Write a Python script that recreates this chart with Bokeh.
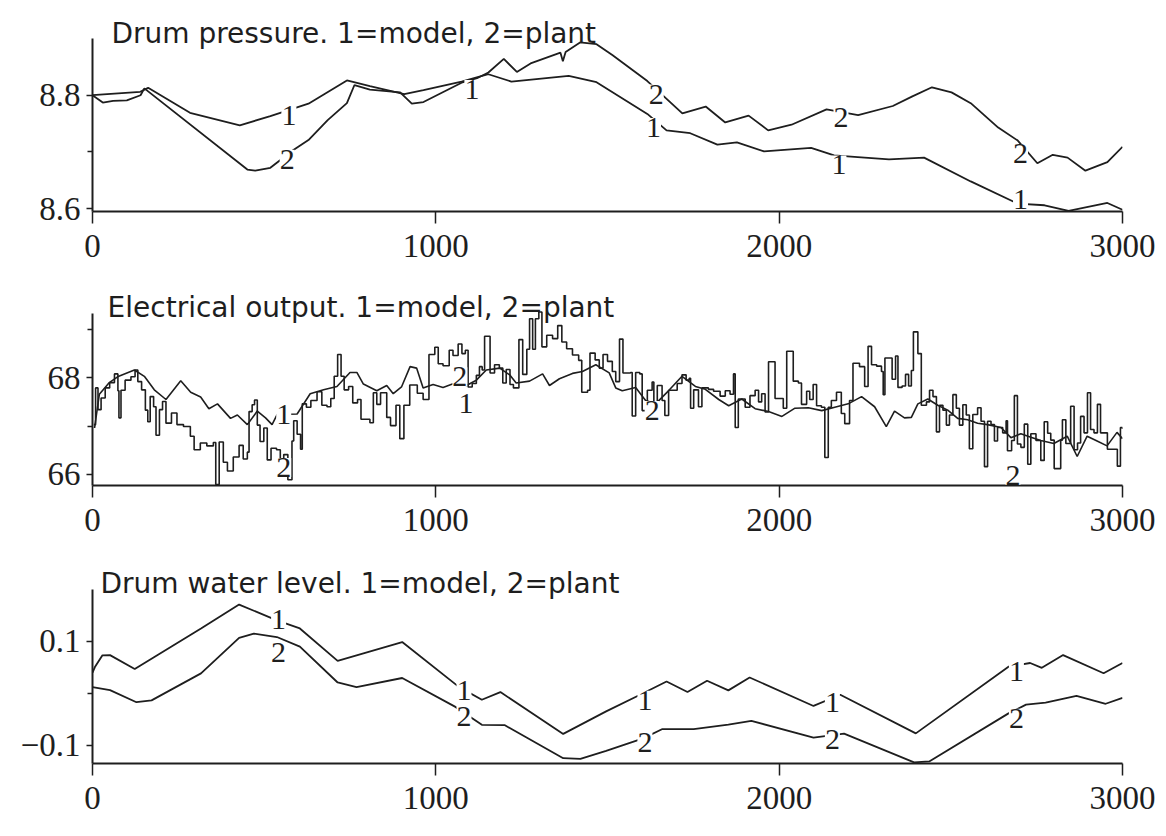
from bokeh.plotting import figure
from bokeh.layouts import column
from bokeh.models import FixedTicker, Range1d, ColumnDataSource, LabelSet, Label
from bokeh.core.properties import value
from bokeh.embed import file_html
from bokeh.resources import INLINE

# ---------------- Panel 1: Drum pressure ----------------
dp_title = "Drum pressure. 1=model, 2=plant"
dp_t_model = [0, 139, 162, 284, 429, 518, 629, 741, 808, 908, 964, 1075, 1153, 1220, 1387,
              1468, 1616, 1672, 1741, 1820, 1877, 1956, 2093, 2160, 2229, 2320, 2422, 2558,
              2694, 2773, 2843, 2956, 3000]
dp_model = [8.800, 8.806, 8.813, 8.769, 8.747, 8.763, 8.785, 8.826, 8.816, 8.802, 8.809, 8.824,
            8.837, 8.824, 8.834, 8.823, 8.767, 8.738, 8.733, 8.713, 8.717, 8.701, 8.707, 8.694,
            8.691, 8.687, 8.690, 8.648, 8.609, 8.606, 8.596, 8.610, 8.598]
dp_t_plant = [0, 30, 60, 100, 140, 151, 451, 474, 518, 584, 629, 685, 741, 763, 808, 896, 930,
              964, 1075, 1120, 1153, 1198, 1236, 1276, 1363, 1370, 1378, 1420, 1468, 1514, 1616,
              1718, 1786, 1843, 1911, 1968, 2036, 2138, 2230, 2331, 2388, 2445, 2502, 2558, 2638,
              2695, 2752, 2797, 2840, 2892, 2956, 3000]
dp_plant = [8.800, 8.787, 8.790, 8.791, 8.800, 8.812, 8.669, 8.667, 8.672, 8.703, 8.721, 8.756,
            8.786, 8.818, 8.810, 8.805, 8.785, 8.788, 8.822, 8.830, 8.840, 8.864, 8.841, 8.856,
            8.875, 8.860, 8.876, 8.893, 8.890, 8.871, 8.825, 8.768, 8.780, 8.752, 8.764, 8.738,
            8.748, 8.775, 8.765, 8.781, 8.798, 8.814, 8.805, 8.786, 8.743, 8.720, 8.680, 8.695,
            8.690, 8.667, 8.682, 8.709]
dp_lab_x = [572, 567, 1105, 1642, 1634, 2180, 2174, 2703, 2703]
dp_lab_y = [8.764, 8.687, 8.810, 8.802, 8.743, 8.761, 8.677, 8.697, 8.616]
dp_lab_t = ["1", "2", "1", "2", "1", "2", "1", "2", "1"]
dp_yticks = [8.6, 8.8]
dp_yminor = [8.7]

# ---------------- Panel 2: Electrical output ----------------
eo_title = "Electrical output. 1=model, 2=plant"
eo_t_model = [6, 20, 49, 73, 122, 151, 180, 214, 257, 286, 315, 339, 364, 402, 422, 451, 480,
              504, 523, 538, 596, 634, 673, 712, 750, 770, 789, 828, 857, 876, 900, 925, 944,
              963, 992, 1021, 1060, 1089, 1118, 1147, 1186, 1215, 1234, 1273, 1311, 1331, 1360,
              1398, 1427, 1466, 1505, 1524, 1543, 1582, 1611, 1640, 1679, 1717, 1756, 1785,
              1824, 1853, 1891, 1930, 1969, 2008, 2046, 2085, 2124, 2162, 2201, 2240, 2278,
              2312, 2336, 2365, 2385, 2404, 2433, 2462, 2491, 2520, 2549, 2578, 2607, 2646,
              2675, 2704, 2733, 2762, 2800, 2839, 2868, 2897, 2926, 2955, 2984, 3000]
eo_model = [66.96, 67.66, 67.90, 68.02, 68.16, 68.03, 67.75, 67.55, 67.94, 67.70, 67.60, 67.36,
            67.46, 67.16, 67.23, 67.03, 67.31, 67.17, 67.03, 67.24, 67.25, 67.67, 67.75, 67.82,
            68.11, 68.11, 67.87, 67.73, 67.84, 67.67, 67.81, 68.23, 68.20, 67.79, 67.86, 67.80,
            67.90, 67.84, 67.95, 68.16, 68.20, 68.06, 67.89, 67.93, 68.08, 67.84, 67.98, 68.09,
            68.13, 68.27, 68.10, 67.79, 67.73, 67.80, 67.53, 67.46, 67.74, 68.03, 67.82, 67.76,
            67.55, 67.42, 67.56, 67.36, 67.30, 67.20, 67.37, 67.38, 67.32, 67.39, 67.46, 67.61,
            67.40, 66.99, 67.31, 67.17, 67.18, 67.46, 67.56, 67.43, 67.33, 67.16, 67.13, 67.06,
            67.03, 66.97, 66.76, 66.84, 66.77, 66.70, 66.64, 66.79, 66.37, 66.79, 66.69, 66.59,
            66.87, 66.74]
eo_t_plant = [4, 9, 16, 25, 37, 50, 64, 74, 77, 83, 95, 112, 124, 132, 143, 154, 161, 168, 178,
              185, 195, 204, 214, 230, 246, 265, 285, 296, 314, 333, 352, 359, 369, 381, 393, 410,
              427, 439, 451, 456, 465, 472, 480, 488, 499, 509, 520, 536, 547, 557, 569, 581, 586,
              596, 606, 611, 623, 636, 654, 668, 683, 694, 704, 714, 724, 733, 746, 758, 772, 782,
              808, 818, 828, 839, 857, 868, 884, 895, 907, 924, 946, 963, 980, 997, 1007, 1021,
              1039, 1050, 1065, 1076, 1086, 1094, 1106, 1118, 1127, 1135, 1142, 1153, 1158, 1171,
              1185, 1195, 1205, 1216, 1226, 1242, 1253, 1265, 1273, 1282, 1290, 1300, 1309, 1323,
              1340, 1355, 1367, 1381, 1398, 1416, 1425, 1442, 1449, 1464, 1476, 1487, 1500, 1514,
              1524, 1535, 1545, 1567, 1572, 1582, 1594, 1601, 1616, 1630, 1635, 1645, 1659, 1667,
              1678, 1703, 1717, 1729, 1738, 1742, 1751, 1765, 1775, 1794, 1809, 1828, 1843, 1857,
              1867, 1872, 1881, 1901, 1915, 1930, 1940, 1949, 1959, 1969, 1983, 1988, 2002, 2012,
              2022, 2036, 2041, 2056, 2065, 2080, 2089, 2099, 2109, 2123, 2133, 2143, 2152, 2167,
              2181, 2191, 2205, 2215, 2234, 2249, 2259, 2269, 2284, 2298, 2303, 2308, 2319, 2329,
              2339, 2346, 2358, 2368, 2377, 2385, 2391, 2404, 2414, 2429, 2438, 2448, 2458, 2467,
              2477, 2487, 2496, 2506, 2516, 2525, 2535, 2545, 2554, 2564, 2578, 2588, 2598, 2607,
              2617, 2627, 2636, 2651, 2661, 2665, 2677, 2685, 2694, 2704, 2714, 2724, 2733, 2748,
              2762, 2772, 2782, 2791, 2801, 2820, 2825, 2835, 2849, 2859, 2869, 2878, 2888, 2898,
              2907, 2917, 2927, 2936, 2956, 2975, 2985, 2994, 3000]
eo_plant = [67.03, 67.79, 67.34, 67.58, 67.79, 67.90, 68.08, 67.73, 67.17, 67.74, 67.95, 68.02,
            68.16, 67.92, 67.75, 67.33, 67.09, 67.61, 67.40, 66.81, 67.34, 67.51, 67.06, 67.27,
            67.03, 66.99, 66.79, 66.51, 66.65, 66.59, 66.66, 65.79, 66.67, 66.25, 66.07, 66.36,
            66.60, 66.32, 66.46, 67.30, 67.44, 67.54, 67.02, 66.68, 66.96, 66.30, 66.54, 66.51,
            66.20, 66.41, 65.89, 66.69, 67.11, 66.83, 66.52, 67.46, 67.39, 67.53, 67.71, 67.43,
            67.40, 67.57, 68.03, 68.48, 68.03, 67.75, 67.82, 67.48, 67.55, 67.14,
            67.07, 67.69, 67.45, 67.69, 67.18, 67.01, 67.43, 66.74, 67.43, 67.85, 67.68, 67.55,
            68.48, 68.63, 68.29, 68.25, 68.57, 68.46, 68.70, 68.50, 68.57, 67.81, 67.88, 68.05,
            68.23, 68.16, 68.86, 68.86, 68.10, 68.27, 68.20, 67.89, 68.17, 67.86, 67.79, 68.79,
            68.07, 68.59, 69.22, 68.59, 69.22, 69.36, 68.64, 68.88, 68.81, 69.08, 68.74, 68.60,
            68.47, 68.36, 67.70, 67.74, 68.51, 68.37, 68.20, 68.48, 68.34, 68.13, 67.92, 68.80,
            68.10, 68.11, 67.21, 68.11, 68.08, 67.32, 67.74, 67.91, 67.15, 67.84, 67.53, 67.22,
            67.74, 67.88, 68.06, 67.95, 67.99, 67.37, 67.75, 67.40, 67.79, 67.76, 67.72, 67.62,
            67.73, 67.66, 68.08, 66.97, 67.56, 67.39, 67.63, 67.74, 67.50, 67.67, 67.29, 68.33,
            68.33, 67.57, 67.57, 67.37, 68.55, 68.55, 67.93, 67.89, 67.45, 67.72, 67.55, 67.86,
            67.42, 67.39, 66.35, 67.39, 67.53, 67.70, 67.26, 67.05, 67.53, 68.30, 68.23, 67.82,
            68.65, 68.27, 68.24, 68.13, 67.65, 68.41, 68.41, 67.97, 68.45, 67.80, 67.83, 68.07,
            67.83, 68.15, 68.95, 68.50, 67.43, 67.50, 67.74, 67.61, 66.88, 67.43, 67.33, 67.02,
            67.23, 67.65, 67.37, 67.02, 67.44, 67.23, 66.53, 67.24, 67.38, 67.10, 66.16, 67.10,
            67.03, 66.69, 66.97, 66.86, 67.11, 66.49, 66.70, 67.63, 66.63, 66.56, 67.04, 66.21,
            66.84, 66.70, 66.29, 67.09, 66.85, 66.71, 66.12, 66.71, 67.13, 66.64, 67.41, 66.51,
            66.65, 67.20, 66.86, 67.69, 66.93, 66.86, 67.45, 66.86, 66.52, 66.52, 66.17, 66.97,
            66.94]
eo_lab_x = [557, 557, 1088, 1070, 1630, 2681]
eo_lab_y = [67.24, 66.14, 67.46, 68.02, 67.32, 65.98]
eo_lab_t = ["1", "2", "1", "2", "2", "2"]
eo_yticks = [66, 68]
eo_yminor = [67, 69]

# ---------------- Panel 3: Drum water level ----------------
wl_title = "Drum water level. 1=model, 2=plant"
wl_t_model = [0, 7, 29, 51, 123, 316, 427, 537, 604, 714, 902, 1067, 1134, 1188, 1371, 1496,
              1592, 1672, 1733, 1790, 1852, 1914, 2100, 2178, 2398, 2668, 2731, 2765, 2827,
              2945, 3000]
wl_model = [0.040, 0.0506, 0.0733, 0.0737, 0.0469, 0.125, 0.171, 0.1406, 0.125, 0.0627, 0.0989,
            0.0125, -0.0123, 0.0025, -0.078, -0.0346, -0.0035, 0.023, 0.0027, 0.0244, 0.0058,
            0.0306, -0.0242, -0.0027, -0.077, 0.0513, 0.0585, 0.0492, 0.0737, 0.0387, 0.0585]
wl_t_plant = [0, 51, 128, 172, 316, 427, 470, 537, 604, 714, 769, 902, 1057, 1134, 1200, 1371,
              1421, 1496, 1604, 1660, 1751, 1852, 1919, 2100, 2189, 2393, 2437, 2668, 2719,
              2776, 2866, 2951, 3000]
wl_plant = [0.0121, 0.0063, -0.017, -0.0135, 0.0385, 0.107, 0.115, 0.1085, 0.090, 0.021, 0.012,
            0.0296, -0.026, -0.0606, -0.061, -0.1248, -0.126, -0.1106, -0.0867, -0.0687, -0.069,
            -0.060, -0.0529, -0.0852, -0.0775, -0.1327, -0.131, -0.0385, -0.0217, -0.0179,
            -0.005, -0.020, -0.0088]
wl_lab_x = [542, 542, 1082, 1082, 1609, 1609, 2155, 2155, 2691, 2691]
wl_lab_y = [0.143, 0.0796, 0.0056, -0.044, -0.013, -0.094, -0.018, -0.089, 0.043, -0.048]
wl_lab_t = ["1", "2", "1", "2", "1", "2", "1", "2", "1", "2"]
wl_yticks = [-0.1, 0.1]
wl_yminor = [0.0]

x_ticks = [0, 1000, 2000, 3000]

INK = "#1e1e1e"
SERIF = "Liberation Serif"
SANS = "DejaVu Sans"
TOP_PAD = 4


def panel(height, top, bottom, y0, y1, yticks, yminor, overrides=None):
    # the axis occupies [y0, y1]; the range is extended upward so the
    # title (drawn inside the frame) sits just above the axis top
    frame_px = height - top - bottom
    scale = frame_px / (y1 - y0)
    y_top = y1 + (top - TOP_PAD) / scale
    p = figure(width=1166, height=height, x_range=Range1d(0, 3000),
               y_range=Range1d(y0, y_top),
               output_backend="svg", toolbar_location=None,
               min_border_left=92, min_border_right=44, min_border_top=TOP_PAD,
               min_border_bottom=bottom)
    p.outline_line_color = None
    p.grid.visible = False
    p.background_fill_color = "white"
    p.border_fill_color = "white"

    p.xaxis.ticker = FixedTicker(ticks=x_ticks)
    p.xaxis.major_tick_out = 12
    p.xaxis.major_tick_in = 0
    p.xaxis.minor_tick_line_color = None
    p.xaxis.major_label_standoff = 11

    p.yaxis.ticker = FixedTicker(ticks=yticks, minor_ticks=yminor)
    p.yaxis.bounds = (y0, y1)
    p.yaxis.major_tick_out = 6
    p.yaxis.major_tick_in = 0
    p.yaxis.minor_tick_out = 5
    p.yaxis.minor_tick_in = 0
    p.yaxis.major_label_standoff = 6
    if overrides:
        p.yaxis.major_label_overrides = overrides

    for ax in (p.xaxis, p.yaxis):
        ax.axis_line_width = 2
        ax.axis_line_color = INK
        ax.major_tick_line_color = INK
        ax.major_tick_line_width = 1.5
        ax.minor_tick_line_color = INK
        ax.minor_tick_line_width = 1.5
        ax.major_label_text_font = SERIF
        ax.major_label_text_font_size = "33px"
        ax.major_label_text_color = INK
    return p


def add_title(p, text, x, y):
    p.add_layout(Label(x=x, y=y, text=text, text_font=SANS, text_font_size="28px",
                       text_color=INK, text_align="left", text_baseline="alphabetic"))


def add_labels(p, xs, ys, ts):
    src = ColumnDataSource(dict(x=xs, y=ys, t=ts))
    p.add_layout(LabelSet(x="x", y="y", text="t", source=src, text_align="center",
                          text_baseline="middle", text_font=value(SERIF),
                          text_font_size=value("30px"), text_color=INK,
                          background_fill_color="white"))


p1 = panel(280, 38, 69, 8.595, 8.9, dp_yticks, dp_yminor)
add_title(p1, dp_title, 55, 8.908)
p1.line(dp_t_model, dp_model, line_color=INK, line_width=1.8)
p1.line(dp_t_plant, dp_plant, line_color=INK, line_width=1.8)
add_labels(p1, dp_lab_x, dp_lab_y, dp_lab_t)

p2 = panel(280, 33, 75, 65.77, 69.33, eo_yticks, eo_yminor)
add_title(p2, eo_title, 44, 69.45)
p2.step(eo_t_plant, eo_plant, mode="after", line_color=INK, line_width=1.6)
p2.line(eo_t_model, eo_model, line_color=INK, line_width=1.6)
add_labels(p2, eo_lab_x, eo_lab_y, eo_lab_t)

p3 = panel(276, 29, 73, -0.135, 0.2, wl_yticks, wl_yminor,
           overrides={0.1: "0.1", -0.1: "\u22120.1"})
add_title(p3, wl_title, 23, 0.211)
p3.line(wl_t_model, wl_model, line_color=INK, line_width=1.8)
p3.line(wl_t_plant, wl_plant, line_color=INK, line_width=1.8)
add_labels(p3, wl_lab_x, wl_lab_y, wl_lab_t)

layout = column(p1, p2, p3, spacing=0)
open("out.html", "w").write(file_html(layout, INLINE))
